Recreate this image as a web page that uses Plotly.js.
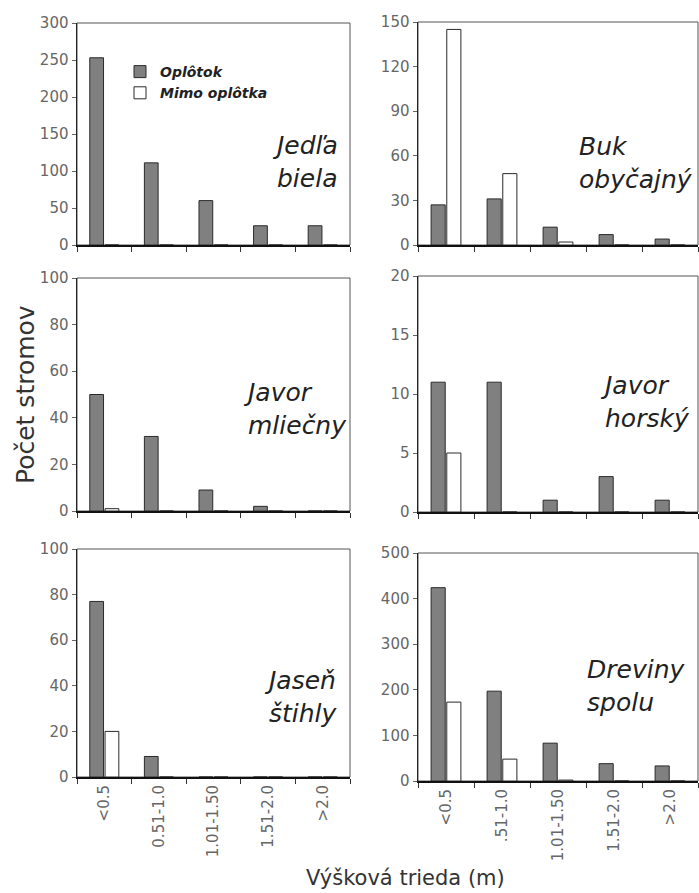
<!DOCTYPE html>
<html>
<head>
<meta charset="utf-8">
<script src="https://cdn.plot.ly/plotly-3.0.1.min.js"></script>
<style>html,body{margin:0;padding:0;background:#fff;}#chart{width:699px;height:893px;}</style>
</head>
<body>
<div id="chart"></div>
<script>
const categoriesLeft = ["<0.5", "0.51-1.0", "1.01-1.50", "1.51-2.0", ">2.0"];
const categoriesRight = ["<0.5", ".51-1.0", "1.01-1.50", "1.51-2.0", ">2.0"];
const seriesNames = ["Oplôtok", "Mimo oplôtka"];

const species = ["Jedľa<br>biela", "Buk<br>obyčajný", "Javor<br>mliečny", "Javor<br>horský", "Jaseň<br>štihly", "Dreviny<br>spolu"];

const jedlaOplotok = [253, 111, 60, 26, 26];
const jedlaMimo = [0, 0, 0, 0, 0];
const bukOplotok = [27, 31, 12, 7, 4];
const bukMimo = [145, 48, 2, 0, 0];
const javorMlOplotok = [50, 32, 9, 2, 0];
const javorMlMimo = [1, 0, 0, 0, 0];
const javorHoOplotok = [11, 11, 1, 3, 1];
const javorHoMimo = [5, 0, 0, 0, 0];
const jasenOplotok = [77, 9, 0, 0, 0];
const jasenMimo = [20, 0, 0, 0, 0];
const spoluOplotok = [424, 197, 83, 38, 33];
const spoluMimo = [173, 48, 2, 0, 0];

const yMax = [300, 150, 100, 20, 100, 500];
const yStep = [50, 30, 20, 5, 20, 100];

const panels = [
  {op: jedlaOplotok, mi: jedlaMimo, cats: categoriesLeft},
  {op: bukOplotok, mi: bukMimo, cats: categoriesRight},
  {op: javorMlOplotok, mi: javorMlMimo, cats: categoriesLeft},
  {op: javorHoOplotok, mi: javorHoMimo, cats: categoriesRight},
  {op: jasenOplotok, mi: jasenMimo, cats: categoriesLeft},
  {op: spoluOplotok, mi: spoluMimo, cats: categoriesRight}
];

const W = 699, H = 893;
const px = v => v / W;
const py = v => (H - v) / H;
const xDomains = [[px(77), px(350)], [px(418), px(698)]];
const yDomains = [
  [py(245), py(23)], [py(245), py(22)],
  [py(511), py(278)], [py(512), py(276)],
  [py(777), py(549)], [py(781), py(553)]
];
const labelPos = [
  [270, 162], [577, 163], [241, 409], [598, 402], [262, 697], [585, 686]
];

const font = "DejaVu Sans, Verdana, sans-serif";
const traces = [];
const layout = {
  width: W, height: H,
  margin: {l: 0, r: 0, t: 0, b: 0},
  paper_bgcolor: "#fff", plot_bgcolor: "#fff",
  barmode: "group", bargap: 0.44, bargroupgap: 0.1,
  font: {family: font, color: "#666"},
  showlegend: true,
  legend: {
    x: px(120), y: py(56), xanchor: "left", yanchor: "top",
    bgcolor: "rgba(0,0,0,0)", tracegroupgap: 0,
    font: {family: font, size: 14, color: "#222", style: "italic", weight: "bold"},
    itemwidth: 30
  },
  shapes: [], annotations: []
};

panels.forEach((p, i) => {
  const n = i + 1;
  const xa = n === 1 ? "x" : "x" + n;
  const ya = n === 1 ? "y" : "y" + n;
  traces.push({
    type: "bar", x: p.cats, y: p.op, name: seriesNames[0], xaxis: xa, yaxis: ya,
    marker: {color: "#808080", line: {color: "#2a2a2a", width: 1}},
    showlegend: i === 0
  });
  traces.push({
    type: "bar", x: p.cats, y: p.mi, name: seriesNames[1], xaxis: xa, yaxis: ya,
    marker: {color: "#ffffff", line: {color: "#2a2a2a", width: 1}},
    showlegend: i === 0
  });
  const bottom = i >= 4;
  layout["xaxis" + (n === 1 ? "" : n)] = {
    domain: xDomains[i % 2], anchor: ya, type: "category",
    tickson: "boundaries", ticks: "outside", ticklen: 5, tickcolor: "#333",
    showticklabels: bottom, tickangle: -90,
    tickfont: {family: font, size: 15, color: "#666"},
    showline: true, linecolor: "#111", linewidth: 2, showgrid: false,
    zeroline: false, fixedrange: true
  };
  layout["yaxis" + (n === 1 ? "" : n)] = {
    domain: yDomains[i], anchor: xa, range: [0, yMax[i]], dtick: yStep[i],
    ticks: "outside", ticklen: 4, tickcolor: "#666",
    tickfont: {family: font, size: 15, color: "#666"},
    showline: true, linecolor: "#222", linewidth: 1.5, showgrid: false,
    zeroline: false, fixedrange: true
  };
  layout.shapes.push({
    type: "rect", xref: xa + " domain", yref: ya + " domain",
    x0: 0, x1: 1, y0: 0, y1: 1, line: {color: "#555", width: 1}, layer: "below"
  });
  layout.annotations.push({
    text: species[i], xref: "paper", yref: "paper",
    x: px(labelPos[i][0]), y: py(labelPos[i][1]), xanchor: "left", yanchor: "middle",
    align: "left", showarrow: false,
    font: {family: font, size: 25, color: "#222", style: "italic"}
  });
});

layout.annotations.push({
  text: "Počet stromov", xref: "paper", yref: "paper", x: px(25), y: py(395),
  xanchor: "center", yanchor: "middle", textangle: -90, showarrow: false,
  font: {family: font, size: 25, color: "#333"}
});
layout.annotations.push({
  text: "Výšková trieda (m)", xref: "paper", yref: "paper", x: px(405), y: py(878),
  xanchor: "center", yanchor: "middle", showarrow: false,
  font: {family: font, size: 21, color: "#333"}
});

Plotly.newPlot("chart", traces, layout, {displayModeBar: false, staticPlot: true});
</script>
</body>
</html>
